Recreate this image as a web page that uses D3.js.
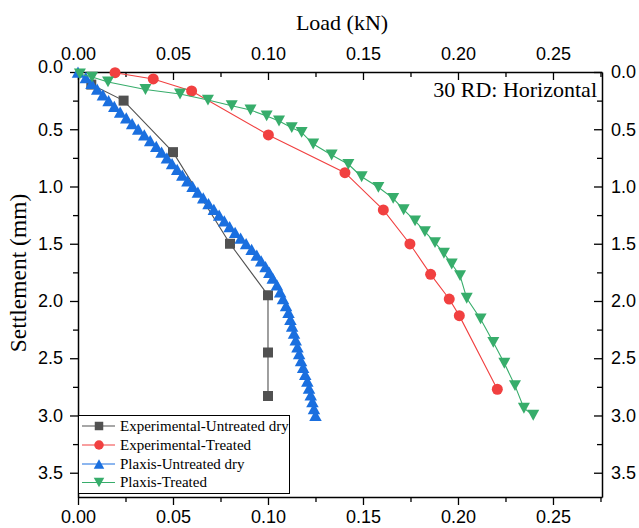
<!DOCTYPE html>
<html><head><meta charset="utf-8">
<script src="https://cdn.jsdelivr.net/npm/d3@7"></script>
<style>body{margin:0;background:#fff}</style>
</head><body>
<svg id="c" width="639" height="528" xmlns="http://www.w3.org/2000/svg"></svg>
<script>
// ---------- data ----------
const xTickValues = [0.00, 0.05, 0.10, 0.15, 0.20, 0.25];
const xMinorValues = [0.025, 0.075, 0.125, 0.175, 0.225, 0.275];
const yTickValues = [0.0, 0.5, 1.0, 1.5, 2.0, 2.5, 3.0, 3.5];
const yMinorValues = [0.25, 0.75, 1.25, 1.75, 2.25, 2.75, 3.25];

const seriesNames = ["Experimental-Untreated dry", "Experimental-Treated", "Plaxis-Untreated dry", "Plaxis-Treated"];
const seriesColors = ["#515151", "#F14040", "#1A6FDF", "#37AD6B"];

const expUntreatedLoad   = [0.007, 0.024, 0.050, 0.080, 0.100, 0.100, 0.100];
const expUntreatedSettle = [0.11, 0.25, 0.70, 1.50, 1.95, 2.45, 2.83];

const expTreatedLoad   = [0.0195, 0.0396, 0.0598, 0.1002, 0.1405, 0.1607, 0.1747, 0.1856, 0.1954, 0.2007, 0.2207];
const expTreatedSettle = [0.006, 0.061, 0.166, 0.550, 0.879, 1.205, 1.502, 1.767, 1.983, 2.128, 2.771];

const plaxisUntreatedLoad = [0, 0.0041, 0.0071, 0.0101, 0.0131, 0.0161, 0.0191, 0.0222, 0.0254, 0.0285,
  0.0317, 0.0349, 0.0380, 0.0412, 0.0440, 0.0468, 0.0495, 0.0522, 0.0549, 0.0576,
  0.0603, 0.0631, 0.0659, 0.0687, 0.0715, 0.0743, 0.0770, 0.0798, 0.0827, 0.0856,
  0.0885, 0.0914, 0.0941, 0.0964, 0.0987, 0.1007,
  0.1025, 0.1047, 0.1064, 0.1079, 0.1095, 0.1108, 0.1118, 0.1127, 0.1137, 0.1146,
  0.1155, 0.1164, 0.1174, 0.1185, 0.1196, 0.1207, 0.1216, 0.1225, 0.1234, 0.1242, 0.1250];
const plaxisUntreatedSettle = [0, 0.05, 0.10, 0.15, 0.20, 0.25, 0.30, 0.35, 0.40, 0.45,
  0.50, 0.55, 0.60, 0.65, 0.70, 0.75, 0.80, 0.85, 0.90, 0.95,
  1.00, 1.05, 1.10, 1.15, 1.20, 1.25, 1.30, 1.35, 1.40, 1.45,
  1.50, 1.55, 1.60, 1.65, 1.70, 1.75,
  1.80, 1.86, 1.92, 1.98, 2.04, 2.10, 2.16, 2.22, 2.28, 2.34,
  2.40, 2.46, 2.52, 2.58, 2.64, 2.70, 2.76, 2.82, 2.88, 2.94, 3.00];

const plaxisTreatedLoad = [0.001, 0.0074, 0.0158, 0.0355, 0.0537, 0.0684, 0.0809, 0.0908, 0.0993, 0.1058,
  0.1125, 0.1177, 0.1238, 0.1335, 0.1423, 0.1493, 0.1581, 0.1659, 0.1714, 0.1774,
  0.1826, 0.1879, 0.1926, 0.1967, 0.2011, 0.2046, 0.2119, 0.2186, 0.2244, 0.2300, 0.2347, 0.2396];
const plaxisTreatedSettle = [0.017, 0.044, 0.087, 0.153, 0.192, 0.245, 0.294, 0.332, 0.384, 0.428,
  0.486, 0.527, 0.629, 0.725, 0.806, 0.915, 1.007, 1.103, 1.203, 1.301,
  1.395, 1.491, 1.583, 1.677, 1.779, 1.976, 2.157, 2.361, 2.544, 2.739, 2.937, 2.998];

const annotationText = "30 RD: Horizontal";
const xTitle = "Load (kN)";
const yTitle = "Settlement (mm)";

// ---------- layout ----------
const L = 78, R = 602, T = 72, B = 497;
const svg = d3.select("#c");
const x = d3.scaleLinear().domain([0, 0.2758]).range([L, R]);
const y = d3.scaleLinear().domain([0, 3.712]).range([T, B]);

const tickFont = "'Liberation Sans', Arial, sans-serif";
const serif = "'Liberation Serif', 'Times New Roman', serif";

function styleAxis(g) {
  g.selectAll("path.domain").attr("stroke", "#000").attr("stroke-width", 1.5);
  g.selectAll(".tick line").attr("stroke", "#000").attr("stroke-width", 1.3);
  g.selectAll(".tick text").attr("font-family", tickFont).attr("font-size", 18).attr("fill", "#000");
}
const fmt2 = d3.format(".2f"), fmt1 = d3.format(".1f");

// minor ticks first
svg.append("g").attr("transform", `translate(0,${B})`)
  .call(d3.axisBottom(x).tickValues(xMinorValues.filter(v => v <= 0.2758)).tickSize(5).tickFormat("").tickSizeOuter(0))
  .call(styleAxis).select("path.domain").remove();
svg.append("g").attr("transform", `translate(0,${T})`)
  .call(d3.axisTop(x).tickValues(xMinorValues.filter(v => v <= 0.2758)).tickSize(-5).tickFormat("").tickSizeOuter(0))
  .call(styleAxis).select("path.domain").remove();
svg.append("g").attr("transform", `translate(${L},0)`)
  .call(d3.axisLeft(y).tickValues(yMinorValues).tickSize(5).tickFormat("").tickSizeOuter(0))
  .call(styleAxis).select("path.domain").remove();
svg.append("g").attr("transform", `translate(${R},0)`)
  .call(d3.axisRight(y).tickValues(yMinorValues).tickSize(-5).tickFormat("").tickSizeOuter(0))
  .call(styleAxis).select("path.domain").remove();

// major axes
svg.append("g").attr("transform", `translate(0,${B})`)
  .call(d3.axisBottom(x).tickValues(xTickValues).tickFormat(fmt2).tickSize(8).tickPadding(5).tickSizeOuter(0))
  .call(styleAxis);
svg.append("g").attr("transform", `translate(0,${T})`)
  .call(d3.axisTop(x).tickValues(xTickValues).tickFormat(fmt2).tickSize(-8).tickPadding(12.5).tickSizeOuter(0))
  .call(styleAxis);
const gL = svg.append("g").attr("transform", `translate(${L},0)`)
  .call(d3.axisLeft(y).tickValues(yTickValues).tickFormat(fmt1).tickSize(8).tickPadding(7).tickSizeOuter(0))
  .call(styleAxis);
gL.selectAll(".tick text").filter(d => d === 0).attr("dy", "0.04em");
svg.append("g").attr("transform", `translate(${R},0)`)
  .call(d3.axisRight(y).tickValues(yTickValues).tickFormat(fmt1).tickSize(-8).tickPadding(9).tickSizeOuter(0))
  .call(styleAxis);

// titles
svg.append("text").attr("x", (L + R) / 2 + 2).attr("y", 30).attr("text-anchor", "middle")
  .attr("font-family", serif).attr("font-size", 22).text(xTitle);
svg.append("text").attr("transform", `translate(25.5,273) rotate(-90)`).attr("text-anchor", "middle")
  .attr("font-family", serif).attr("font-size", 23.5).text(yTitle);
svg.append("text").attr("x", 597).attr("y", 97).attr("text-anchor", "end")
  .attr("font-family", serif).attr("font-size", 22).text(annotationText);

// ---------- series ----------
const symbols = {
  square: s => `M${-s/2},${-s/2}h${s}v${s}h${-s}Z`,
  up: s => `M0,${-s*0.45}L${s/2},${s*0.45}L${-s/2},${s*0.45}Z`,
  down: s => `M0,${s*0.45}L${s/2},${-s*0.45}L${-s/2},${-s*0.45}Z`
};
const series = [
  {xs: expUntreatedLoad, ys: expUntreatedSettle, sym: "square", size: 10},
  {xs: expTreatedLoad, ys: expTreatedSettle, sym: "circle", size: 11},
  {xs: plaxisUntreatedLoad, ys: plaxisUntreatedSettle, sym: "up", size: 12.5},
  {xs: plaxisTreatedLoad, ys: plaxisTreatedSettle, sym: "down", size: 12}
];
const line = d3.line().x(d => x(d[0])).y(d => y(d[1]));
function drawMarker(g, sym, size, color, cx, cy) {
  if (sym === "circle") {
    g.append("circle").attr("cx", cx).attr("cy", cy).attr("r", size / 2).attr("fill", color);
  } else {
    g.append("path").attr("d", symbols[sym](size)).attr("transform", `translate(${cx},${cy})`).attr("fill", color);
  }
}
series.forEach((s, i) => {
  const pts = s.xs.map((v, j) => [v, s.ys[j]]);
  const g = svg.append("g");
  g.append("path").attr("d", line(pts)).attr("fill", "none").attr("stroke", seriesColors[i]).attr("stroke-width", 1.1);
  pts.forEach(p => drawMarker(g, s.sym, s.size, seriesColors[i], x(p[0]), y(p[1])));
});

// ---------- legend ----------
const lg = svg.append("g");
lg.append("rect").attr("x", 78.5).attr("y", 415.5).attr("width", 211).attr("height", 78)
  .attr("fill", "#fff").attr("stroke", "#000").attr("stroke-width", 1);
const rowY = [426, 445, 464, 482.5];
seriesNames.forEach((n, i) => {
  lg.append("line").attr("x1", 82).attr("x2", 115).attr("y1", rowY[i]).attr("y2", rowY[i])
    .attr("stroke", seriesColors[i]).attr("stroke-width", 1.1);
  drawMarker(lg, series[i].sym, series[i].sym === "square" ? 8.5 : (series[i].sym === "circle" ? 9.5 : 10.5), seriesColors[i], 99, rowY[i]);
  lg.append("text").attr("x", 120).attr("y", rowY[i]).attr("dy", "0.33em")
    .attr("font-family", serif).attr("font-size", 15).text(n);
});
</script>
</body></html>
